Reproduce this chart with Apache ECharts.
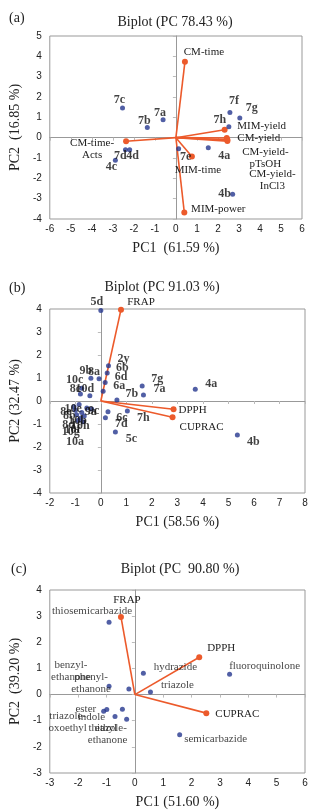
<!DOCTYPE html>
<html><head><meta charset="utf-8">
<script src="https://cdn.jsdelivr.net/npm/echarts@6/dist/echarts.min.js"></script>
<style>html,body{margin:0;padding:0;background:#fff}#c{width:317px;height:812px}</style>
</head><body><div id="c"></div>
<script>
// ---------- Panel (a) ----------
const aPointNames = ['7c','7b','7a','7f','7g','7h','4a','7e','4b','7d','4d','4c'];
const aPointX = [-2.54,-1.36,-0.61,2.57,3.04,2.52,1.54,0.13,2.70,-2.40,-2.20,-2.88];
const aPointY = [1.46,0.50,0.88,1.24,0.97,0.54,-0.50,-0.55,-2.78,-0.59,-0.59,-1.11];
const aVecNames = ['CM-time','MIM-yield','CM-yield','CM-yield-\npTsOH','CM-yield-\nInCl3','CM-time-\nActs','MIM-time','MIM-power'];
const aVecX = [0.43,2.32,2.42,2.45,2.45,-2.37,0.76,0.40];
const aVecY = [3.73,0.39,-0.02,-0.10,-0.17,-0.18,-0.93,-3.68];
const aTicksX = [-6,-5,-4,-3,-2,-1,0,1,2,3,4,5,6];
const aTicksY = [-4,-3,-2,-1,0,1,2,3,4,5];

// ---------- Panel (b) ----------
const bPointNames = ['5d','2y','6b','6d','6a','7b','7g','7a','4a','9b','8a','10c','8c','10d',
  '6c','7d','7h','5c','4b','10e','9a','8b','10b','10h','8d','10f','10g','10a','9c','8e'];
const bPointX = [0.00,0.30,0.25,0.17,0.09,0.63,1.62,1.67,3.70,-0.39,-0.07,-0.75,-0.80,-0.43,
  0.28,0.18,1.04,0.57,5.35,-0.85,-0.55,-1.00,-0.75,-0.65,-0.95,-0.80,-0.90,-0.70,-0.36,-1.05];
const bPointY = [3.94,1.53,1.22,0.80,0.42,0.04,0.65,0.26,0.51,0.99,0.97,0.55,0.30,0.23,
  -0.47,-0.73,-0.44,-1.35,-1.48,-0.15,-0.30,-0.40,-0.50,-0.65,-0.60,-0.75,-0.85,-0.90,-0.35,-0.25];
const bVecNames = ['FRAP','DPPH','CUPRAC'];
const bVecX = [0.79,2.85,2.81];
const bVecY = [3.97,-0.36,-0.71];
const bTicksX = [-2,-1,0,1,2,3,4,5,6,7,8];
const bTicksY = [-4,-3,-2,-1,0,1,2,3,4];

// ---------- Panel (c) ----------
const cPointNames = ['thiosemicarbazide','hydrazide','fluoroquinolone','phenyl-\nethanone','benzyl-\nethanone',
  'triazole','ester','triazole-\noxoethyl','indole','ethyl','thiazole-\nethanone','semicarbazide'];
const cPointX = [-0.91,0.30,3.34,-0.91,-0.21,0.55,-0.99,-1.10,-0.44,-0.70,-0.29,1.58];
const cPointY = [2.77,0.82,0.78,0.32,0.21,0.10,-0.57,-0.64,-0.56,-0.84,-0.94,-1.54];
const cVecNames = ['FRAP','DPPH','CUPRAC'];
const cVecX = [-0.49,2.27,2.52];
const cVecY = [2.97,1.43,-0.71];
const cTicksX = [-3,-2,-1,0,1,2,3,4,5,6];
const cTicksY = [-3,-2,-1,0,1,2,3,4];

// ---------- label placement (layout only, px offsets from the mark) ----------
const aPointOff = [[-3,-8],[-3,-7],[-3,-7],[4,-12],[12,-10],[-9,-7],[16,8],[7,8],[-8,0],[-5,6],[3,6],[-4,7]];
const aVecOff = [[19,-10],[37,-4],[32,0],[38,18],[45,39],[-34,8],[6,14],[34,-3]];
const bPointOff = [[-4,-8],[15,-7],[15,-5],[16,-6],[16,-5],[15,-6],[15,-7],[16,-6],[16,-5],[-5,-7],[-5,-7],[-7,-8],[-5,-5],[-5,-7],
  [14,6],[16,6],[16,7],[16,7],[16,7],[-6,4],[4,4],[-6,6],[-4,8],[-4,10],[-8,10],[-8,12],[-7,11],[-8,20],[2,2],[-8,5]];
const bVecOff = [[20,-8],[19,1],[29,10]];
const cPointOff = [[-17,-11],[32,-6],[35,-8],[-18,-3],[-58,-18],[27,-7],[-21,0],[-36,11],[-31,8],[-9,12],[-19,15],[36,4]];
const cVecOff = [[6,-17],[22,-9],[31,1]];

const BLUE = '#26378f', ORANGE = '#ec5a2b', SERIF = 'Liberation Serif', SANS = 'Liberation Sans';

const grids = [
  {left:45, right:15, top:36, height:183},
  {left:46, right:12, top:309, height:184},
  {left:48, right:12, top:590, height:183}
];
const panels = [
  {pn:aPointNames,px:aPointX,py:aPointY,vn:aVecNames,vx:aVecX,vy:aVecY,tx:aTicksX,ty:aTicksY,po:aPointOff,vo:aVecOff,bold:true,
   xName:'PC1  (61.59 %)', yName:'PC2  (16.85 %)'},
  {pn:bPointNames,px:bPointX,py:bPointY,vn:bVecNames,vx:bVecX,vy:bVecY,tx:bTicksX,ty:bTicksY,po:bPointOff,vo:bVecOff,bold:true,
   xName:'PC1 (58.56 %)', yName:'PC2 (32.47 %)'},
  {pn:cPointNames,px:cPointX,py:cPointY,vn:cVecNames,vx:cVecX,vy:cVecY,tx:cTicksX,ty:cTicksY,po:cPointOff,vo:cVecOff,bold:false,
   xName:'PC1 (51.60 %)', yName:'PC2  (39.20 %)'}
];

const xAxes = [], yAxes = [], series = [];
panels.forEach((p, g) => {
  const xmin = p.tx[0], xmax = p.tx[p.tx.length-1], xi = p.tx[1]-p.tx[0];
  const ymin = p.ty[0], ymax = p.ty[p.ty.length-1], yi = p.ty[1]-p.ty[0];
  xAxes.push({gridIndex:g, type:'value', min:xmin, max:xmax, interval:xi, position:'bottom',
    axisLine:{show:false,onZero:false}, axisTick:{show:false}, splitLine:{show:false},
    axisLabel:{fontFamily:SANS, fontSize:10, color:'#222', margin:5},
    name:p.xName, nameLocation:'middle', nameGap:22,
    nameTextStyle:{fontFamily:SERIF, fontSize:14, color:'#222'}});
  xAxes.push({gridIndex:g, type:'value', min:xmin, max:xmax, interval:xi, position:'bottom',
    axisLine:{show:true,onZero:true,lineStyle:{color:'#999',width:1}},
    axisTick:{show:true,length:3,lineStyle:{color:'#bbb'}}, axisLabel:{show:false}, splitLine:{show:false}});
  yAxes.push({gridIndex:g, type:'value', min:ymin, max:ymax, interval:yi, position:'left',
    axisLine:{show:false,onZero:false}, axisTick:{show:false}, splitLine:{show:false},
    axisLabel:{fontFamily:SANS, fontSize:10, color:'#222', margin:8},
    name:p.yName, nameLocation:'middle', nameGap:23,
    nameTextStyle:{fontFamily:SERIF, fontSize:14, color:'#222'}});
  yAxes.push({gridIndex:g, type:'value', min:ymin, max:ymax, interval:yi, position:'left',
    axisLine:{show:true,onZero:true,lineStyle:{color:'#999',width:1}},
    axisTick:{show:true,length:3,lineStyle:{color:'#bbb'}}, axisLabel:{show:false}, splitLine:{show:false}});
  const xa = g*2+1, ya = g*2+1;
  p.vn.forEach((n, i) => {
    series.push({type:'line', xAxisIndex:xa, yAxisIndex:ya, symbol:'circle', symbolSize:6,
      lineStyle:{color:ORANGE, width:1.6}, itemStyle:{color:ORANGE}, z:2,
      data:[{value:[0,0], symbol:'none', label:{show:false}},
            {value:[p.vx[i], p.vy[i]], label:{show:true, position:'inside', offset:p.vo[i], formatter:n,
              fontFamily:SERIF, fontSize:11, color:'#222', lineHeight:12, align:'center', verticalAlign:'middle'}}]});
  });
  series.push({type:'scatter', xAxisIndex:xa, yAxisIndex:ya, symbolSize:5, itemStyle:{color:BLUE}, z:3,
    data:p.pn.map((n, i) => ({name:n, value:[p.px[i], p.py[i]], label:{offset:p.po[i]}})),
    label:{show:true, position:'inside', formatter:'{b}', fontFamily:SERIF, fontSize:p.bold?12:11,
      fontWeight:p.bold?'bold':'normal', color:'#111', lineHeight:12, align:'center', verticalAlign:'middle'}});
});

const tStyle = {fontFamily:SERIF, fontSize:14, color:'#222', fontWeight:'normal'};
const chart = echarts.init(document.getElementById('c'), null, {renderer:'canvas'});
chart.setOption({
  animation:false,
  backgroundColor:'#fff',
  title:[
    {text:'(a)', left:4, top:6, textStyle:tStyle},
    {text:'Biplot (PC 78.43 %)', left:170, top:10, textAlign:'center', textStyle:tStyle},
    {text:'(b)', left:4, top:276, textStyle:tStyle},
    {text:'Biplot (PC 91.03 %)', left:157, top:275, textAlign:'center', textStyle:tStyle},
    {text:'(c)', left:6, top:557, textStyle:tStyle},
    {text:'Biplot (PC  90.80 %)', left:175, top:557, textAlign:'center', textStyle:tStyle}
  ],
  grid: grids.map(g => Object.assign({show:true, borderColor:'#999', borderWidth:1, backgroundColor:'transparent'}, g)),
  xAxis:xAxes, yAxis:yAxes, series:series
});
</script></body></html>
